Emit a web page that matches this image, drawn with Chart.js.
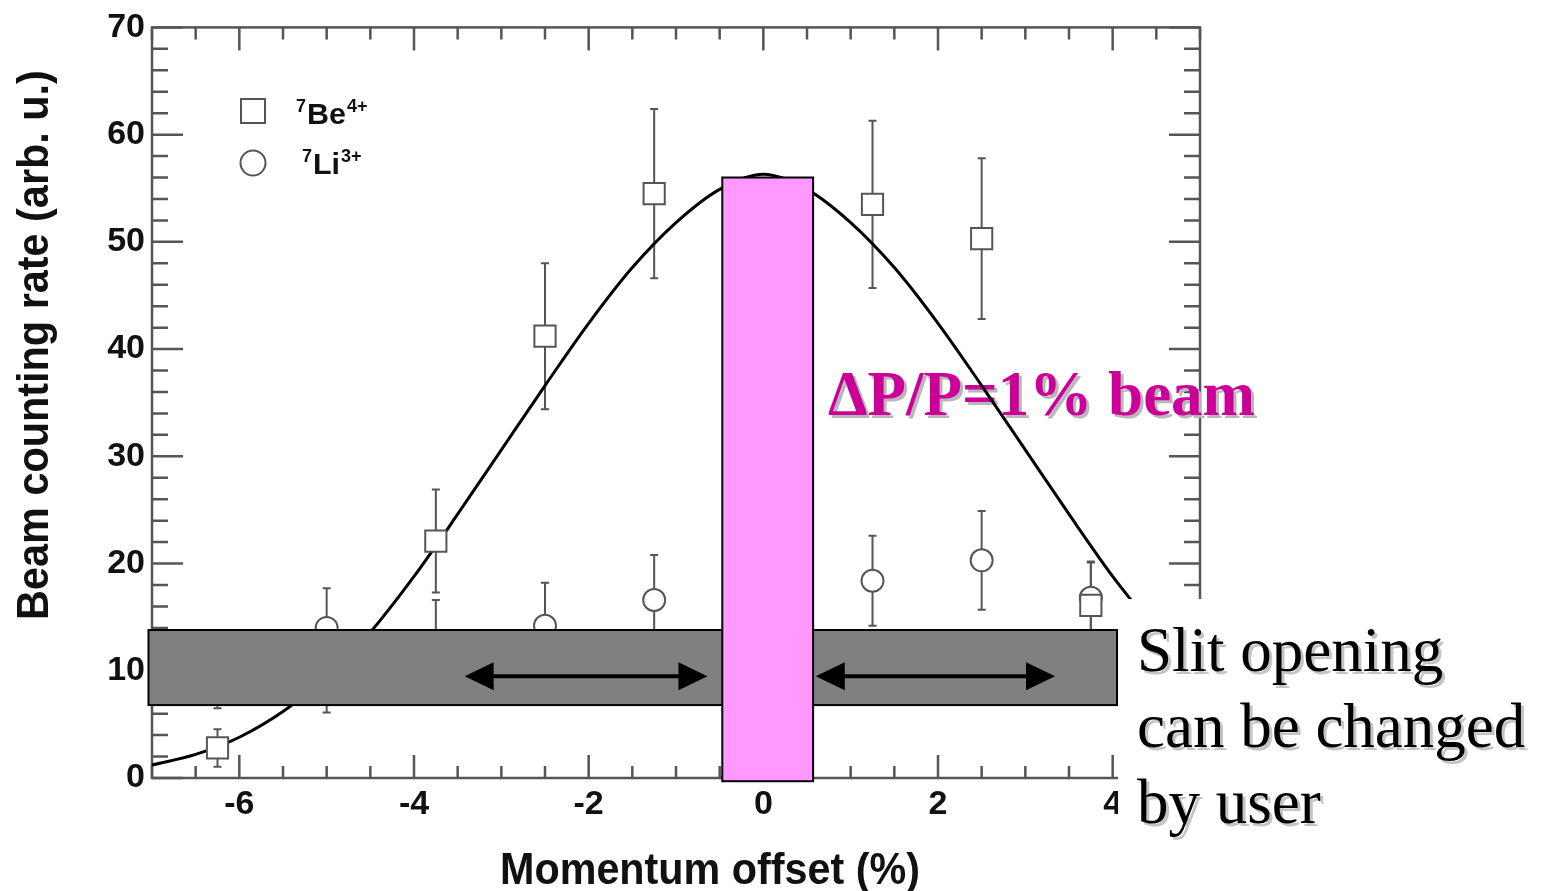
<!DOCTYPE html>
<html>
<head>
<meta charset="utf-8">
<script src="https://cdn.jsdelivr.net/npm/chart.js@4.4.0/dist/chart.umd.min.js"></script>
<style>
  html, body { margin: 0; padding: 0; background: #fff; }
  #wrap { width: 1545px; height: 891px; }
</style>
</head>
<body>
<div id="wrap"><canvas id="chart" width="1545" height="891"></canvas></div>
<script>
// 7Be4+ points (momentum offset %, rate, error)
const beX = [-6.25, -5, -3.75, -2.5, -1.25, 1.25, 2.5, 3.75];
const beY = [2.8, 9.5, 22.1, 41.2, 54.5, 53.5, 50.3, 16.1];
const beErr = [1.75, 3.4, 4.8, 6.8, 7.9, 7.8, 7.5, 4.0];

// 7Li3+ points
const liX = [-6.25, -5, -3.75, -2.5, -1.25, 1.25, 2.5, 3.75];
const liY = [9.5, 14.0, 12.5, 14.2, 16.6, 18.4, 20.3, 16.8];
const liErr = [3.0, 3.7, 4.1, 4.0, 4.2, 4.2, 4.6, 3.4];

// fitted curve
const fitX = [-7, -6.5, -6, -5.5, -5, -4.5, -4, -3.5, -3, -2.5, -2, -1.5, -1, -0.5, 0,
              0.5, 1, 1.5, 2, 2.5, 3, 3.5, 4, 4.25];
const fitY = [1.2, 2.2, 3.8, 6.2, 9.4, 13.6, 18.8, 24.6, 30.6, 36.6, 42.4, 47.6, 51.8, 54.9, 56.3,
              54.9, 51.8, 47.6, 42.4, 36.6, 30.6, 24.6, 18.8, 16.2];

const xTickValues = [-6, -4, -2, 0, 2, 4];
const yTickValues = [0, 10, 20, 30, 40, 50, 60, 70];

// overlays, in data units
const slitBand = { x0: -7.04, x1: 4.05, y0: 6.8, y1: 13.8 };
const beamBar = { x0: -0.47, x1: 0.57, y0: -0.3, y1: 56.0 };
const arrowLeft = [-3.42, -0.64];
const arrowRight = [0.60, 3.34];
const arrowY = 9.5;

const axisColor = '#555';

function pts(xs, ys) {
  return xs.map((x, i) => ({ x: x, y: ys[i] }));
}

function drawErrors(ctx, xs, ys, errs, sx, sy) {
  ctx.strokeStyle = axisColor;
  ctx.lineWidth = 2;
  xs.forEach((x, i) => {
    const px = sx.getPixelForValue(x);
    const top = sy.getPixelForValue(ys[i] + errs[i]);
    const bot = sy.getPixelForValue(ys[i] - errs[i]);
    ctx.beginPath();
    ctx.moveTo(px, top); ctx.lineTo(px, bot);
    ctx.moveTo(px - 4, top); ctx.lineTo(px + 4, top);
    ctx.moveTo(px - 4, bot); ctx.lineTo(px + 4, bot);
    ctx.stroke();
  });
}

function drawArrow(ctx, x0, x1, y) {
  const head = 29, half = 14;
  ctx.strokeStyle = '#000';
  ctx.fillStyle = '#000';
  ctx.lineWidth = 4;
  ctx.beginPath();
  ctx.moveTo(x0 + head - 2, y); ctx.lineTo(x1 - head + 2, y);
  ctx.stroke();
  ctx.beginPath();
  ctx.moveTo(x0, y); ctx.lineTo(x0 + head, y - half); ctx.lineTo(x0 + head, y + half);
  ctx.closePath(); ctx.fill();
  ctx.beginPath();
  ctx.moveTo(x1, y); ctx.lineTo(x1 - head, y - half); ctx.lineTo(x1 - head, y + half);
  ctx.closePath(); ctx.fill();
}

function shadowText(ctx, txt, x, y, color, shadow) {
  ctx.fillStyle = shadow;
  ctx.fillText(txt, x + 3, y + 3);
  ctx.fillStyle = color;
  ctx.fillText(txt, x, y);
}

function legendLabel(ctx, x, base, sup1, main, sup2) {
  ctx.save();
  ctx.fillStyle = '#111';
  ctx.textBaseline = 'alphabetic';
  ctx.textAlign = 'left';
  ctx.font = 'bold 18px "Liberation Sans"';
  const w1 = ctx.measureText(sup1).width;
  ctx.fillText(sup1, x - w1 - 1, base - 12);
  ctx.font = 'bold 29px "Liberation Sans"';
  const w2 = ctx.measureText(main).width * 1.05;
  ctx.save(); ctx.translate(x, base); ctx.scale(1.05, 1); ctx.fillText(main, 0, 0); ctx.restore();
  ctx.font = 'bold 18px "Liberation Sans"';
  ctx.fillText(sup2, x + w2 + 1, base - 12);
  ctx.restore();
}

const errorBars = {
  id: 'errorBars',
  beforeDatasetsDraw(chart) {
    const ctx = chart.ctx, sx = chart.scales.x, sy = chart.scales.y, a = chart.chartArea;
    ctx.save();
    // frame and inward ticks
    ctx.strokeStyle = axisColor;
    ctx.lineWidth = 2.5;
    ctx.strokeRect(a.left, a.top, a.right - a.left, a.bottom - a.top);
    ctx.beginPath();
    for (let v = -7; v <= 5; v += 0.5) {
      const px = sx.getPixelForValue(v);
      const len = (v % 2 === 0) ? 23 : 12;
      ctx.moveTo(px, a.bottom); ctx.lineTo(px, a.bottom - len);
      ctx.moveTo(px, a.top); ctx.lineTo(px, a.top + len);
    }
    for (let v = 0; v <= 70; v += 2) {
      const py = sy.getPixelForValue(v);
      const len = (v % 10 === 0) ? 31 : 16;
      ctx.moveTo(a.left, py); ctx.lineTo(a.left + len, py);
      ctx.moveTo(a.right, py); ctx.lineTo(a.right - len, py);
    }
    ctx.stroke();

    // beam label sits under the fitted curve
    ctx.textAlign = 'left';
    ctx.textBaseline = 'alphabetic';
    ctx.font = 'bold 63px "Liberation Serif"';
    shadowText(ctx, 'ΔP/P=1% beam', 828, 415, '#cc0099', '#b8b8b8');

    ctx.beginPath();
    ctx.rect(a.left, a.top, a.right - a.left, a.bottom - a.top);
    ctx.clip();
    drawErrors(ctx, beX, beY, beErr, sx, sy);
    drawErrors(ctx, liX, liY, liErr, sx, sy);
    ctx.restore();
  },
  afterDatasetsDraw(chart) {
    const ctx = chart.ctx, sx = chart.scales.x, sy = chart.scales.y;
    ctx.save();
    // legend
    ctx.strokeStyle = axisColor;
    ctx.lineWidth = 2;
    ctx.fillStyle = '#fff';
    ctx.fillRect(241, 99, 24, 24);
    ctx.strokeRect(241, 99, 24, 24);
    ctx.beginPath();
    ctx.arc(253, 163, 12.5, 0, Math.PI * 2);
    ctx.fill(); ctx.stroke();
    legendLabel(ctx, 307, 124, '7', 'Be', '4+');
    legendLabel(ctx, 313, 174, '7', 'Li', '3+');

    // slit band
    const bx0 = sx.getPixelForValue(slitBand.x0), bx1 = sx.getPixelForValue(slitBand.x1);
    const by0 = sy.getPixelForValue(slitBand.y1), by1 = sy.getPixelForValue(slitBand.y0);
    ctx.fillStyle = '#808080';
    ctx.fillRect(bx0, by0, bx1 - bx0, by1 - by0);
    ctx.strokeStyle = '#000';
    ctx.lineWidth = 2;
    ctx.strokeRect(bx0, by0, bx1 - bx0, by1 - by0);

    // beam bar
    const px0 = sx.getPixelForValue(beamBar.x0), px1 = sx.getPixelForValue(beamBar.x1);
    const py0 = sy.getPixelForValue(beamBar.y1), py1 = sy.getPixelForValue(beamBar.y0);
    ctx.fillStyle = '#ff99ff';
    ctx.fillRect(px0, py0, px1 - px0, py1 - py0);
    ctx.strokeRect(px0, py0, px1 - px0, py1 - py0);

    // arrows
    const ay = sy.getPixelForValue(arrowY);
    drawArrow(ctx, sx.getPixelForValue(arrowLeft[0]), sx.getPixelForValue(arrowLeft[1]), ay);
    drawArrow(ctx, sx.getPixelForValue(arrowRight[0]), sx.getPixelForValue(arrowRight[1]), ay);

    // white text box in the lower right
    ctx.fillStyle = '#fff';
    ctx.fillRect(bx1 + 1, 599, chart.width - bx1, chart.height - 599);

    // slit texts
    ctx.textAlign = 'left';
    ctx.textBaseline = 'alphabetic';
    ctx.font = '63px "Liberation Serif"';
    shadowText(ctx, 'Slit opening', 1137, 671, '#000', '#c4c4c4');
    shadowText(ctx, 'can be changed', 1137, 747, '#000', '#c4c4c4');
    shadowText(ctx, 'by user', 1137, 823, '#000', '#c4c4c4');

    // axis titles
    ctx.fillStyle = '#111';
    ctx.textAlign = 'center';
    ctx.font = 'bold 45px "Liberation Sans"';
    ctx.save();
    ctx.translate(710, 884);
    ctx.scale(0.918, 1);
    ctx.fillText('Momentum offset (%)', 0, 0);
    ctx.restore();
    ctx.save();
    ctx.translate(48, 345);
    ctx.rotate(-Math.PI / 2);
    ctx.scale(0.92, 1);
    ctx.fillText('Beam counting rate (arb. u.)', 0, 0);
    ctx.restore();
    ctx.restore();
  }
};

const tickFont = { family: 'Liberation Sans', size: 34, weight: 'bold' };

new Chart(document.getElementById('chart'), {
  type: 'scatter',
  data: {
    datasets: [{
      label: '7Be4+',
      data: pts(beX, beY),
      pointStyle: 'rect',
      pointRadius: 15,
      borderColor: axisColor,
      backgroundColor: '#fff',
      borderWidth: 2,
      order: 1
    }, {
      label: '7Li3+',
      data: pts(liX, liY),
      pointStyle: 'circle',
      pointRadius: 11,
      borderColor: axisColor,
      backgroundColor: '#fff',
      borderWidth: 2,
      order: 2
    }, {
      type: 'line',
      label: 'fit',
      data: pts(fitX, fitY),
      borderColor: '#000',
      borderWidth: 3,
      pointRadius: 0,
      fill: false,
      cubicInterpolationMode: 'monotone',
      order: 3
    }]
  },
  options: {
    responsive: false,
    animation: false,
    devicePixelRatio: 1,
    layout: { padding: { left: 0, top: 25, right: 345, bottom: 0 } },
    plugins: { legend: { display: false }, tooltip: { enabled: false } },
    scales: {
      x: {
        type: 'linear',
        min: -7,
        max: 5,
        grid: { display: false, drawTicks: false, tickLength: 0 },
        border: { display: false },
        afterBuildTicks: s => { s.ticks = xTickValues.map(v => ({ value: v })); },
        ticks: {
          autoSkip: false,
          maxRotation: 0,
          padding: 6,
          color: '#111',
          font: tickFont
        },
        afterFit: s => { s.height = 113; }
      },
      y: {
        min: 0,
        max: 70,
        grid: { display: false, drawTicks: false, tickLength: 0 },
        border: { display: false },
        afterBuildTicks: s => { s.ticks = yTickValues.map(v => ({ value: v })); },
        ticks: { padding: 7, color: '#111', font: tickFont },
        afterFit: s => { s.width = 152; }
      }
    }
  },
  plugins: [errorBars]
});
</script>
</body>
</html>
